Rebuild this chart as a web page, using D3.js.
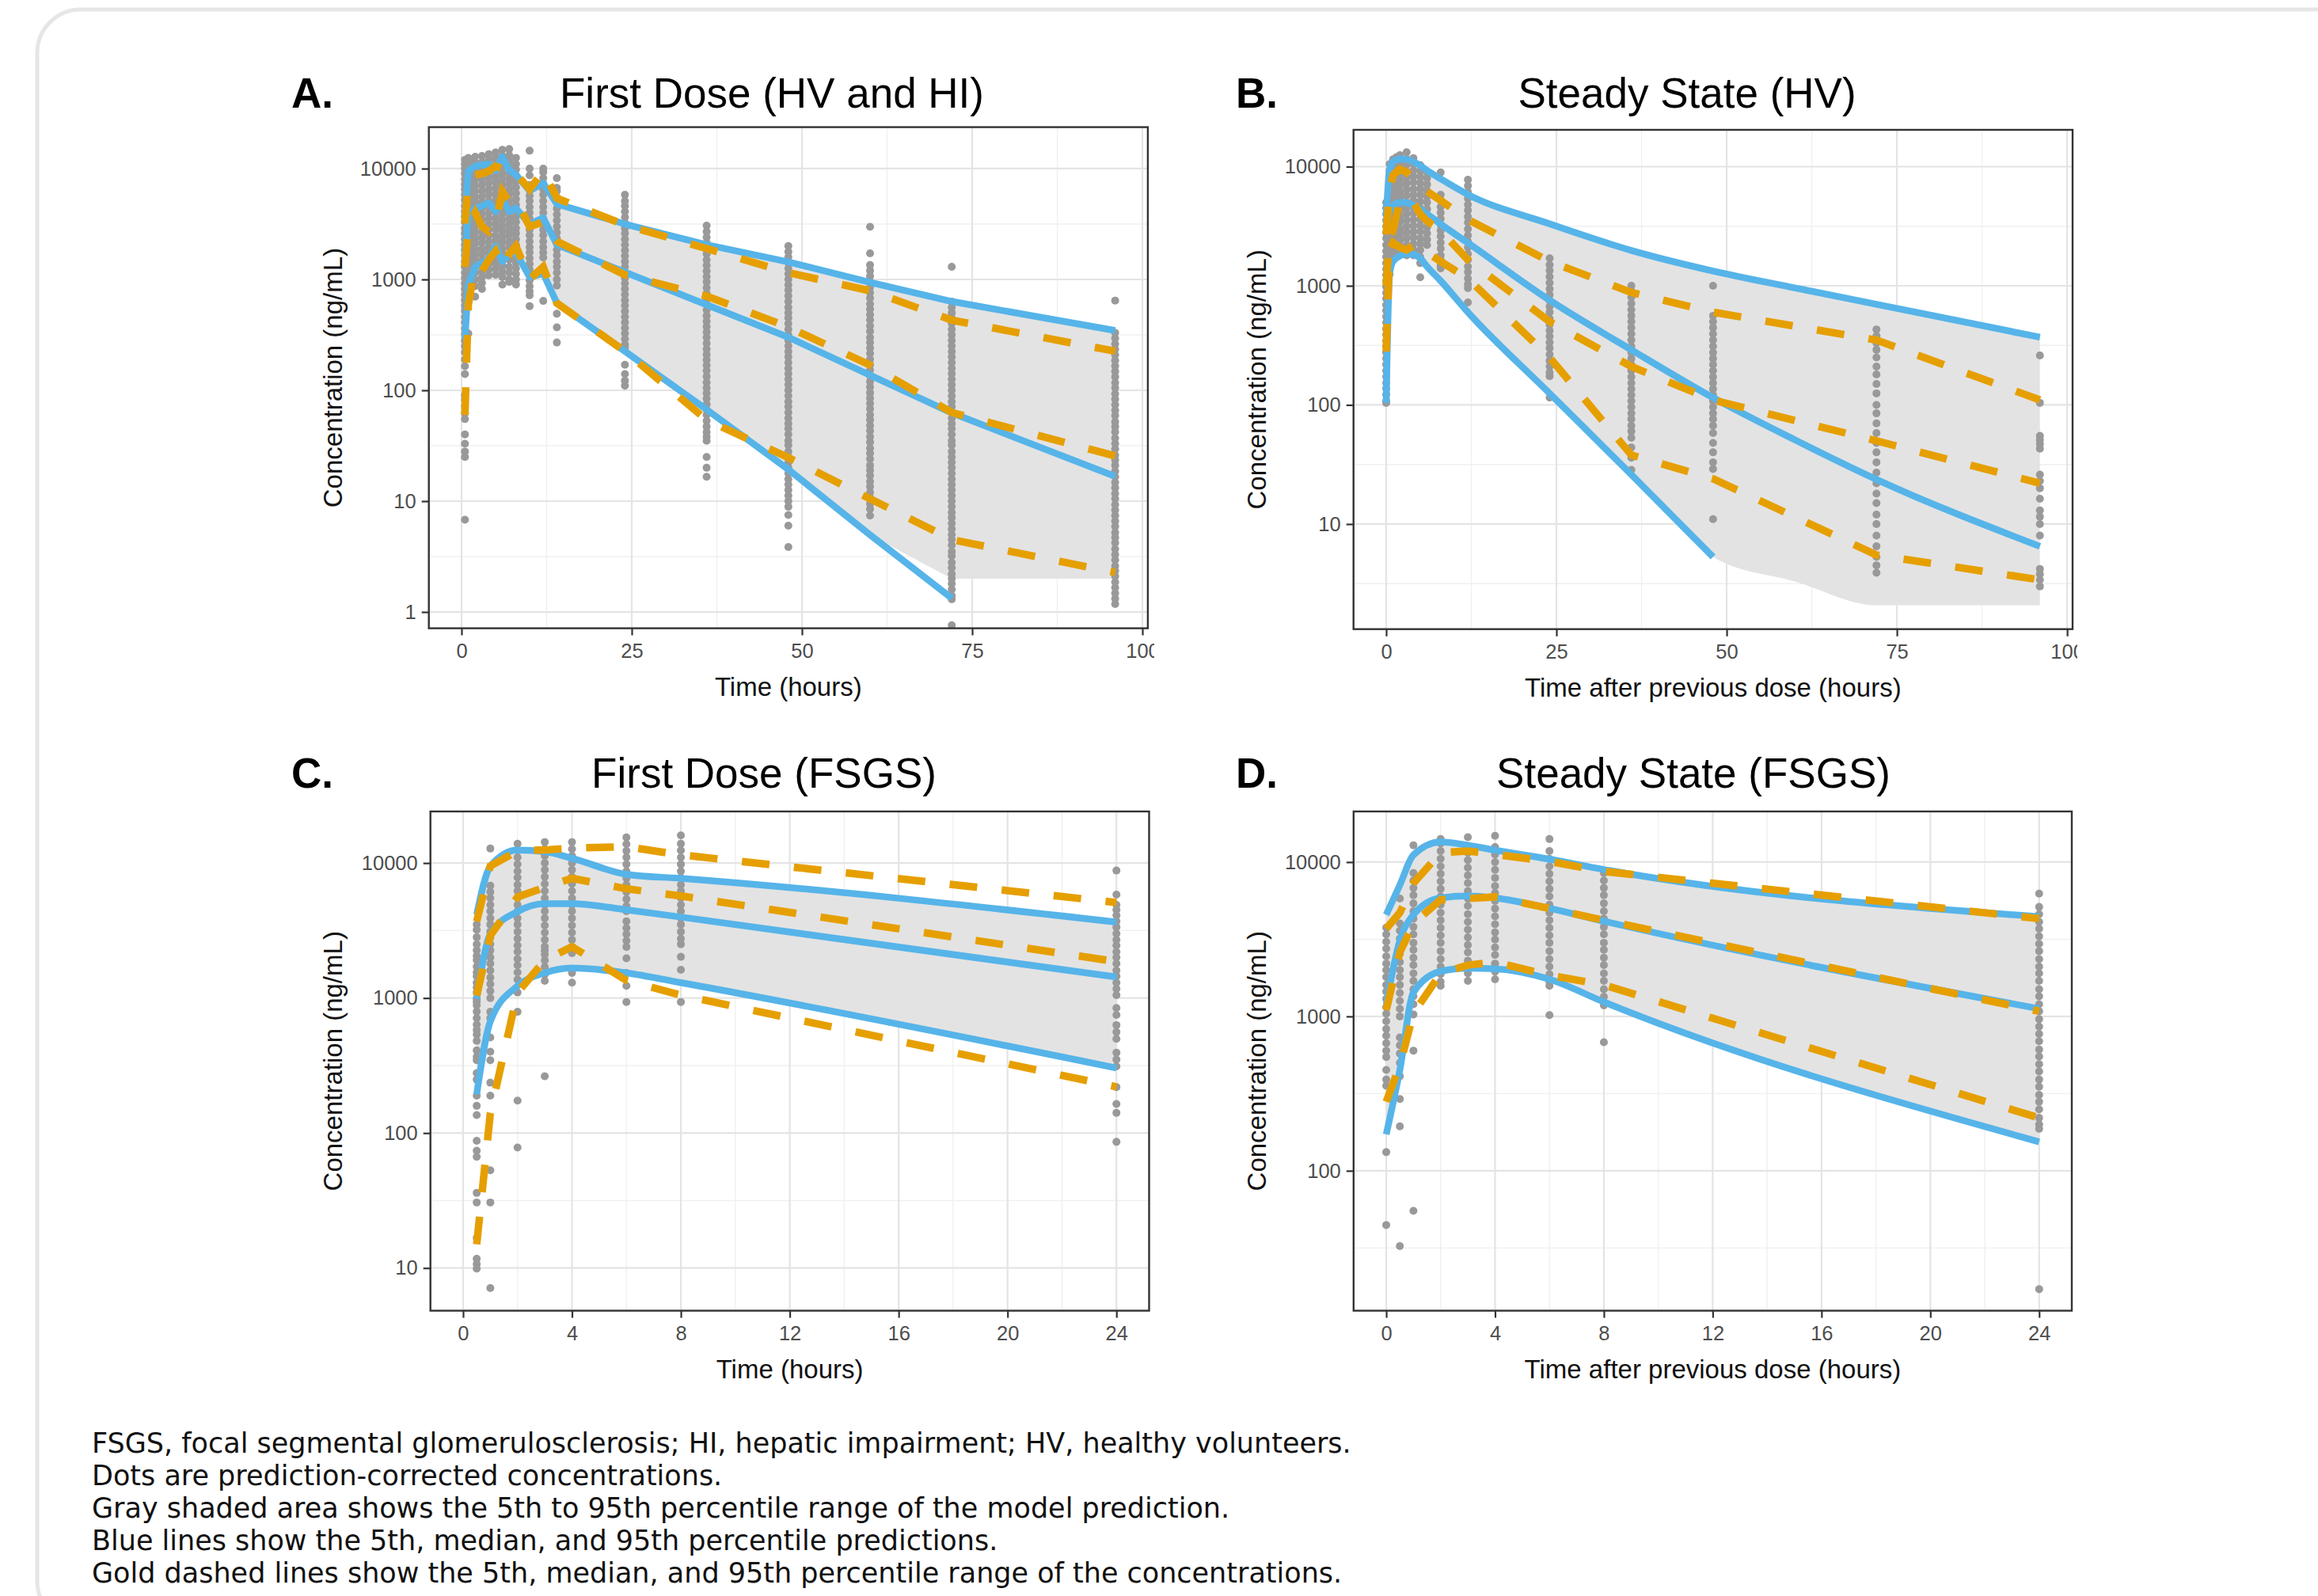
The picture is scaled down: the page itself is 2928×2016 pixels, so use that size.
<!DOCTYPE html>
<html><head><meta charset="utf-8">
<script src="https://cdn.jsdelivr.net/npm/d3@7"></script>
<style>body{margin:0;background:#fff}svg{display:block}</style>
</head><body>
<svg id="c" width="2928" height="2016"></svg>
<script>
// ---------------- DATA ----------------
// Panel A: First Dose (HV and HI)
const A_time   = [0.5,1,2,3,4,5,6,7,8,10,12,14,24,36,48,60,72,96];
const A_predHi = [3500,9500,10500,10800,11000,9600,12800,9700,8800,6300,7400,4800,3160,2060,1440,940,633,346];
const A_predMed= [1600,3900,4400,4600,4900,4100,5200,4100,4400,3150,3600,2060,1163,590,301,137,62.5,16.7];
const A_predLo = [290,900,1300,1400,1550,2000,1450,1700,1750,1050,1130,612,225,67,19.3,4.96,1.33,null];
const A_obsHi  = [3200,7800,8800,9000,9500,10500,10000,10300,9000,6500,9500,5400,3100,1900,1150,790,430,225];
const A_obsMed = [1300,3000,4000,3000,2700,3200,6200,5000,5200,3000,3300,2210,1100,708,372,169,63,25.6];
const A_obsLo  = [60,600,1300,1200,1500,1800,1300,1700,2000,1000,1300,612,225,54,24.7,10.5,4.5,2.27];
const A_bandLo = [290,900,1300,1400,1550,2000,1450,1700,1750,1050,1130,612,225,67,19.3,4.96,2,2];
const A_bandHi = [3500,9500,10500,10800,11000,9600,12800,9700,8800,6300,7400,4800,3160,2060,1440,940,633,346];
const A_dotTimes = [0.5,1,1.5,2,3,4,5,6,7,8,10,12,14,24,36,48,60,72,96];
const A_dots = [
 [12000,11000,10000,9000,8000,7200,6500,5800,5200,4600,4100,3700,3300,2900,2600,2300,2050,1850,1650,1450,1300,1150,1030,920,820,730,650,580,520,460,410,360,320,280,250,220,190,165,140,90,82,72,62,55,40,33,28,25,6.8],
 [12500,11000,9800,8700,7700,6800,6000,5300,4700,4200,3700,3300,2900,2600,2300,2050,1800,1600,1420,1260,1120,1000,890,620,325],
 [11800,10500,9300,8200,7300,6500,5800,5100,4500,4000,3550,3150,2800,2500,2200,1950,1750,1550,1380,1230,1100,890,700],
 [12800,11300,10000,8900,7900,7000,6200,5500,4900,4300,3800,3400,3000,2650,2350,2100,1850,1650,1470,1300,1150,1000,870,700],
 [13000,11500,10200,9000,8000,7100,6300,5600,5000,4400,3900,3450,3050,2700,2400,2150,1900,1700,1500,1330,1180,1050,930,820],
 [13500,12000,10600,9400,8300,7400,6500,5800,5100,4500,4000,3550,3150,2800,2500,2200,1950,1750,1550,1370,1220,1090],
 [14000,12400,11000,9700,8600,7600,6700,5900,5200,4600,4100,3600,3200,2850,2500,2250,2000,1780,1580,1400,1250,1100],
 [14800,13000,11500,10200,9000,8000,7100,6300,5600,5000,4400,3900,3450,3050,2700,2400,2150,1900,1700,1500,1330,1180,1050,900],
 [15000,13200,11700,10400,9200,8200,7300,6500,5800,5100,4500,4000,3550,3150,2800,2500,2200,1950,1700,1500,1300,1150,1000,950],
 [12500,11000,9800,8700,7700,6800,6000,5300,4700,4200,3700,3300,2900,2600,2300,2050,1800,1600,1420,1260,1120,1000,900],
 [14500,10000,8700,7100,6400,5700,5100,4500,4000,3550,3150,2800,2500,2200,1950,1750,1550,1380,1230,1100,980,870,780,720,575],
 [10000,9300,8200,7300,6500,5800,5100,4500,4000,3550,3150,2800,2500,2200,1950,1750,1580,640],
 [8200,6700,6250,5500,4900,4350,3850,3400,3000,2650,2350,2100,1850,1650,1450,1300,1150,1000,880,490,370,270],
 [5800,5100,4600,4100,3650,3250,2900,2600,2300,2050,1830,1630,1450,1300,1150,1030,920,820,730,650,580,515,460,410,365,325,290,258,243,170,140,122,110],
 [3060,2700,2400,2150,1900,1700,1500,1340,1190,1060,950,840,750,670,600,530,470,420,375,335,300,265,235,210,188,168,150,133,118,105,94,84,75,67,60,53,47,42,38,35,25,20,16.6],
 [2000,1780,1590,1420,1260,1120,1000,890,800,710,630,560,500,450,400,355,316,282,251,224,200,178,158,141,126,112,100,89,79,71,63,56,50,45,40,35,32,28,25,22.4,20,17.8,15.8,14.1,12.6,11.2,10,8.9,7.5,6,3.85],
 [2980,1720,1350,1200,1070,950,850,760,680,600,540,480,430,380,340,300,270,240,215,190,170,152,135,120,107,95,85,76,68,60,54,48,43,38,34,30,27,24,21,19,17,15,13.5,12,10.7,9.5,8.5,7.4],
 [1300,630,560,500,450,400,355,316,282,251,224,200,178,158,141,126,112,100,89,79,71,63,56,50,45,40,35,32,28,25,22.4,20,17.8,15.8,14.1,12.6,11.2,10,8.9,7.9,7.1,6.3,5.6,5,4.5,4,3.5,3.2,2.8,2.5,2.2,2,1.8,1.6,1.4,1.3,0.76],
 [645,330,295,262,234,209,186,166,148,132,117,105,93,83,74,66,59,52,47,42,37,33,29.5,26,23.5,21,18.6,16.6,14.8,13.2,11.7,10.5,9.3,8.3,7.4,6.6,5.9,5.2,4.7,4.2,3.7,3.3,2.95,2.6,2.35,2.1,1.86,1.66,1.48,1.32,1.18]
];

// Panel B: Steady State (HV)
const B_time   = [0,0.5,1,2,3,4,5,6,8,12,24,36,48,60,72,96];
const B_predHi = [3800,9500,11000,11600,11500,11000,10200,9300,7900,5840,3310,1980,1330,960,700,370];
const B_predMed= [3400,4300,4700,5000,5000,4700,4400,4000,3300,2290,757,290,115,51,23.7,6.5];
const B_predLo = [104,1250,1600,1780,1850,1830,1700,1450,1100,600,125,26,5.3,null,null,null];
const B_obsHi  = [2700,6500,8500,9500,9000,8000,7000,6200,5200,3600,1600,880,600,null,350,110];
const B_obsMed = [1000,2600,2900,5200,4800,5000,4000,3500,2900,1650,500,210,110,null,50,22];
const B_obsLo  = [280,2000,2300,2100,2000,2200,2000,1900,1600,1150,250,38,24,null,5.5,3.4];
const B_bandLo = [104,1250,1600,1780,1850,1830,1700,1450,1100,600,125,26,5.3,3.3,2.08,2.08];
const B_bandHi = [3800,9500,11000,11600,11500,11000,10200,9300,7900,5840,3310,1980,1330,960,700,370];
const B_dotTimes = [0,0.5,1,1.5,2,3,4,5,6,8,12,24,36,48,72,96];
const B_dots = [
 [5000,4500,4000,3550,3150,2800,2500,2200,1950,1750,1550,1380,1230,1100,980,870,780,690,620,550,490,435,390,345,310,275,245,218,194,172,153,137,122,108,104],
 [10500,9300,8300,7400,6600,5900,5200,4600,4100,3650,3250,2900,2600,2300,2050,1800,1600,1400,1250],
 [11500,10200,9100,8100,7200,6400,5700,5100,4500,4000,3600,3200,2850,2550,2250,2000,1800],
 [12000,10700,9500,8400,7500,6700,5900,5300,4700,4200,3700,3300,2950,2600,2350,2100,1900],
 [12500,11000,9800,8700,7700,6900,6100,5400,4800,4300,3800,3400,3000,2700,2400,2150,1950],
 [13200,11600,10300,9100,8100,7200,6400,5700,5000,4500,4000,3550,3150,2800,2500,2200,2000,1800],
 [11800,10500,9300,8300,7400,6500,5800,5200,4600,4100,3600,3200,2850,2550,2250,2000,1800],
 [10300,9200,8200,7300,6500,5800,5100,4500,4000,3600,3200,2850,2500,2250,2000,1750,1550,1180],
 [9000,8000,7100,6300,5600,5000,4400,3900,3500,3100,2750,2450,2200],
 [8950,5800,5200,4600,4100,3650,3250,2900,2600,2300,2050,1800,1650,1480,1400],
 [7760,6900,6100,5400,4800,4300,3800,3400,3000,2650,2350,2100,1850,1650,1450,1300,1150,1030,955,725],
 [1700,1500,1340,1190,1060,940,840,750,670,600,530,470,420,375,335,300,265,235,210,187,174,115],
 [1000,900,800,710,630,560,500,445,395,350,310,275,245,218,194,172,153,136,121,108,96,85,76,67,60,53,44,36,28.5],
 [1000,560,500,445,395,350,310,275,245,218,194,172,153,136,121,108,96,85,76,67,58,48,40,33,29,11],
 [430,380,330,290,250,210,180,150,125,100,85,70,58,48,40,33,27,22,18,15,12,10,8,6.5,5.3,4.5,3.9],
 [260,104,55,51,47,43,26,23,20,16.3,13,11.5,10,8,4.2,3.8,3.4,3.0]
];

// Panel C: First Dose (FSGS)
const C_time   = [0.5,1,2,3,4,6,8,24];
const C_predHi = [4140,9470,12470,12130,10860,8240,7700,3650];
const C_predMed= [986,2970,4370,5000,5000,4500,3980,1430];
const C_predLo = [194,671,1230,1535,1667,1535,1300,303];
const C_obsHi  = [3700,9500,12300,12500,12900,13200,11500,5100];
const C_obsMed = [1040,2900,5600,6600,7700,6450,5700,1860];
const C_obsLo  = [15,140,1100,1900,2400,1350,1050,220];
const C_dotTimes = [0.5,1,2,3,4,6,8,24];
const C_dots = [
 [3510,3200,2820,2500,2260,2050,1910,1710,1550,1450,1300,1200,1100,990,940,885,795,710,635,580,537,482,409,366,346,278,249,189,159,136,87.5,74,66.6,36,30.6,16.7,11.7,10.7,9.9],
 [12800,6800,6100,5500,4900,4400,3900,3500,3100,2800,2500,2250,2000,1800,1600,1420,1270,1130,1000,790,710,510,400,346,236,189,53,30.6,7.1],
 [13900,12400,11000,9800,8700,7800,6900,6200,5500,4900,4400,3900,3500,3100,2750,2450,2200,1950,1750,1550,1370,1100,790,174,78],
 [14300,12700,11300,10000,8900,7900,7000,6200,5500,4900,4400,3900,3450,3050,2700,2400,2250,2100,1900,1700,1500,1340,263],
 [14300,12700,11300,10000,8900,7900,7000,6200,5500,4900,4400,3900,3450,3050,2700,2400,2150,1535,1300],
 [15500,13800,12300,11000,9800,8700,7700,6900,6100,5400,4800,4400,3700,3300,2970,2660,2390,1970,1535,1230,935],
 [16000,13900,12400,11000,9800,8700,7800,6900,6200,5500,4900,4400,3900,3500,3100,2750,2500,2020,1620,935],
 [8800,5840,4900,4500,4100,3700,3350,3000,2700,2450,2200,2000,1800,1600,1450,1300,1170,1050,844,750,630,560,498,394,350,312,219,164,141,86]
];

// Panel D: Steady State (FSGS)
const D_time   = [0,0.5,1,2,3,4,6,8,24];
const D_predHi = [4560,7100,11120,13490,12850,11940,10440,8950,4430];
const D_predMed= [1200,3100,4560,5860,6030,5860,5010,4140,1122];
const D_predLo = [172,450,1430,1960,2055,2035,1740,1240,154];
const D_obsHi  = [3700,4700,7300,11500,11800,11200,10100,8700,4300];
const D_obsMed = [1100,2600,4000,5700,5800,5950,5000,4200,1080];
const D_obsLo  = [280,480,1050,1900,2150,2250,1850,1600,220];
const D_dotTimes = [0,0.5,1,2,3,4,6,8,24];
const D_dots = [
 [3760,3400,3050,2750,2450,2200,2000,1800,1600,1450,1300,1150,1040,930,830,750,670,600,546,450,390,355,132,44.5],
 [5800,4000,3600,3200,2850,2550,2250,2000,1800,1600,1420,1260,1120,1000,730,650,575,500,410,292,194,32.5],
 [12850,8500,7600,6800,6100,5400,4800,4300,3800,3400,3000,2700,2400,2150,1900,1700,1500,1350,1200,1030,600,55],
 [14100,13200,11800,10500,9400,8400,7500,6700,6000,5300,4700,4200,3750,3350,3000,2650,2350,2100,1880,1680,1580],
 [14500,11500,10300,9200,8200,7300,6500,5800,5200,4600,4100,3650,3250,2900,2600,2300,2100,1900,1700],
 [14800,12500,11200,10000,8900,7900,7000,6300,5600,5000,4450,3950,3500,3150,2800,2500,2200,1950,1740],
 [14100,11800,10500,9400,8400,7500,6700,6000,5300,4700,4200,3750,3350,3000,2650,2350,2100,1880,1680,1580,1020],
 [8500,7600,6800,6100,5400,4800,4300,3800,3400,3000,2700,2400,2150,1900,1700,1500,1340,1180,680],
 [6250,5120,4600,4100,3700,3300,2950,2650,2350,2100,1900,1700,1500,1350,1200,1080,960,860,770,690,610,550,490,440,390,350,310,280,250,220,200,187,17.1]
];

// Tick labels
const xTicksLong  = [0,25,50,75,100];
const xMinorLong  = [12.5,37.5,62.5,87.5];
const xTicksShort = [0,4,8,12,16,20,24];
const xMinorShort = [2,6,10,14,18,22];
const yTicksA = [1,10,100,1000,10000];
const yTicksB = [10,100,1000,10000];
const yTicksC = [10,100,1000,10000];
const yTicksD = [100,1000,10000];
const yMinorAll = [0.3162,3.162,31.62,316.2,3162,31623];

const titles  = ["First Dose (HV and HI)","Steady State (HV)","First Dose (FSGS)","Steady State (FSGS)"];
const letters = ["A.","B.","C.","D."];
const yTitle  = "Concentration (ng/mL)";
const xTitles = ["Time (hours)","Time after previous dose (hours)","Time (hours)","Time after previous dose (hours)"];
const captionLines = [
 "FSGS, focal segmental glomerulosclerosis; HI, hepatic impairment; HV, healthy volunteers.",
 "Dots are prediction-corrected concentrations.",
 "Gray shaded area shows the 5th to 95th percentile range of the model prediction.",
 "Blue lines show the 5th, median, and 95th percentile predictions.",
 "Gold dashed lines show the 5th, median, and 95th percentile range of the concentrations."
];

// ---------------- LAYOUT ----------------
const BLUE = "#56B4E9", GOLD = "#E69F00", DOT = "#999999", BAND = "#e3e3e3";
const FONT = "'Liberation Sans', Arial, Helvetica, sans-serif";

const panels = [
 {box:{l:541.7,r:1449.9,t:160.6,b:793.6}, xDom:[-4.8,100.8], yDom:[0.713,23660],
  xT:xTicksLong, xM:xMinorLong, yT:yTicksA, curve:d3.curveLinear, clip:1458,
  letterX:368, titleX:975, titleY:136, yTitleX:432,
  time:A_time, hi:A_predHi, med:A_predMed, lo:A_predLo, oHi:A_obsHi, oMed:A_obsMed, oLo:A_obsLo,
  bandT:A_time, bLo:A_bandLo, bHi:A_bandHi, dT:A_dotTimes, dots:A_dots},
 {box:{l:1709.7,r:2618,t:164,b:794.7}, xDom:[-4.8,100.8], yDom:[1.312,20370],
  xT:xTicksLong, xM:xMinorLong, yT:yTicksB, curve:d3.curveMonotoneX, clip:2624,
  letterX:1561, titleX:2131, titleY:136, yTitleX:1599,
  time:B_time, hi:B_predHi, med:B_predMed, lo:B_predLo, oHi:B_obsHi, oMed:B_obsMed, oLo:B_obsLo,
  bandT:B_time, bLo:B_bandLo, bHi:B_bandHi, dT:B_dotTimes, dots:B_dots},
 {box:{l:543.7,r:1451.5,t:1025,b:1655.6}, xDom:[-1.2,25.2], yDom:[4.83,24100],
  xT:xTicksShort, xM:xMinorShort, yT:yTicksC, curve:d3.curveMonotoneX, clip:null,
  letterX:368, titleX:965, titleY:995, yTitleX:432,
  time:C_time, hi:C_predHi, med:C_predMed, lo:C_predLo, oHi:C_obsHi, oMed:C_obsMed, oLo:C_obsLo,
  bandT:C_time, bLo:C_predLo, bHi:C_predHi, dT:C_dotTimes, dots:C_dots},
 {box:{l:1709.8,r:2617,t:1025,b:1655.6}, xDom:[-1.2,25.2], yDom:[12.4,21280],
  xT:xTicksShort, xM:xMinorShort, yT:yTicksD, curve:d3.curveMonotoneX, clip:null,
  letterX:1561, titleX:2139, titleY:995, yTitleX:1599,
  time:D_time, hi:D_predHi, med:D_predMed, lo:D_predLo, oHi:D_obsHi, oMed:D_obsMed, oLo:D_obsLo,
  bandT:D_time, bLo:D_predLo, bHi:D_predHi, dT:D_dotTimes, dots:D_dots}
];

const svg = d3.select("#c");
const defs = svg.append("defs");

// card background
svg.append("rect").attr("x",47).attr("y",12).attr("width",3000).attr("height",2040)
  .attr("rx",55).attr("fill","#fff").attr("stroke","#e6e6e6").attr("stroke-width",5);

panels.forEach((p,i) => {
  const {l,r,t,b} = p.box;
  const x = d3.scaleLinear().domain(p.xDom).range([l,r]);
  const y = d3.scaleLog().domain(p.yDom).range([b,t]);
  const g = svg.append("g");

  g.append("rect").attr("x",l).attr("y",t).attr("width",r-l).attr("height",b-t).attr("fill","#fff");

  // grid
  const yMin = yMinorAll.filter(v => v>p.yDom[0] && v<p.yDom[1]);
  g.selectAll(null).data(yMin).join("line")
    .attr("x1",l).attr("x2",r).attr("y1",d=>y(d)).attr("y2",d=>y(d))
    .attr("stroke","#f0f0f0").attr("stroke-width",1.4);
  g.selectAll(null).data(p.xM).join("line")
    .attr("y1",t).attr("y2",b).attr("x1",d=>x(d)).attr("x2",d=>x(d))
    .attr("stroke","#f0f0f0").attr("stroke-width",1.4);
  g.selectAll(null).data(p.yT).join("line")
    .attr("x1",l).attr("x2",r).attr("y1",d=>y(d)).attr("y2",d=>y(d))
    .attr("stroke","#e4e4e4").attr("stroke-width",2.2);
  g.selectAll(null).data(p.xT.filter(v=>x(v)<=r)).join("line")
    .attr("y1",t).attr("y2",b).attr("x1",d=>x(d)).attr("x2",d=>x(d))
    .attr("stroke","#e4e4e4").attr("stroke-width",2.2);

  const cid = "clip"+i;
  defs.append("clipPath").attr("id",cid).append("rect")
    .attr("x",l).attr("y",t).attr("width",r-l).attr("height",b-t);
  const pg = g.append("g").attr("clip-path",`url(#${cid})`);

  // band
  const band = p.bandT.map((tt,j)=>({t:tt, lo:p.bLo[j], hi:p.bHi[j]})).filter(d=>d.lo!=null&&d.hi!=null);
  pg.append("path").datum(band)
    .attr("d", d3.area().curve(p.curve).x(d=>x(d.t)).y0(d=>y(d.lo)).y1(d=>y(d.hi)))
    .attr("fill",BAND);

  // dots
  const pts = [];
  p.dT.forEach((tt,j)=>p.dots[j].forEach(v=>pts.push({t:tt,v})));
  pg.selectAll(null).data(pts).join("circle")
    .attr("cx",d=>x(d.t)).attr("cy",d=>y(d.v)).attr("r",5).attr("fill",DOT);

  const mk = arr => p.time.map((tt,j)=>({t:tt,v:arr[j]})).filter(d=>d.v!=null);
  [p.lo,p.med,p.hi].forEach(arr=>{
    pg.append("path").datum(mk(arr))
      .attr("d", d3.line().curve(p.curve).x(d=>x(d.t)).y(d=>y(d.v)))
      .attr("fill","none").attr("stroke",BLUE).attr("stroke-width",8.5)
      .attr("stroke-linejoin","round");
  });
  [p.oLo,p.oMed,p.oHi].forEach(arr=>{
    pg.append("path").datum(mk(arr))
      .attr("d", d3.line().x(d=>x(d.t)).y(d=>y(d.v)))
      .attr("fill","none").attr("stroke",GOLD).attr("stroke-width",9.5)
      .attr("stroke-dasharray","35,31").attr("stroke-linecap","butt");
  });

  // border
  g.append("rect").attr("x",l).attr("y",t).attr("width",r-l).attr("height",b-t)
    .attr("fill","none").attr("stroke","#333").attr("stroke-width",2.4);

  // axes
  const gx = g.append("g").attr("transform",`translate(0,${b})`)
    .call(d3.axisBottom(x).tickValues(p.xT).tickSize(9).tickPadding(10).tickFormat(d3.format("d")));
  if (p.clip) {
    const xc = "xclip"+i;
    defs.append("clipPath").attr("id",xc).append("rect")
      .attr("x",0).attr("y",-5).attr("width",p.clip).attr("height",80);
    gx.attr("clip-path",`url(#${xc})`);
  }
  const gy = g.append("g").attr("transform",`translate(${l},0)`)
    .call(d3.axisLeft(y).tickValues(p.yT).tickSize(9).tickPadding(7).tickFormat(d3.format("d")));
  [gx,gy].forEach(a=>{
    a.select(".domain").remove();
    a.attr("font-family",FONT).attr("font-size",25.5);
    a.selectAll(".tick line").attr("stroke","#333").attr("stroke-width",2.2);
    a.selectAll(".tick text").attr("fill","#4d4d4d");
  });

  // axis titles
  g.append("text").attr("x",(l+r)/2).attr("y",b+85).attr("text-anchor","middle")
    .attr("font-family",FONT).attr("font-size",33).attr("fill","#111").text(xTitles[i]);
  g.append("text").attr("transform",`translate(${p.yTitleX},${(t+b)/2}) rotate(-90)`)
    .attr("text-anchor","middle").attr("font-family",FONT).attr("font-size",33)
    .attr("fill","#111").text(yTitle);

  // titles
  g.append("text").attr("x",p.letterX).attr("y",p.titleY).attr("font-family",FONT)
    .attr("font-size",53).attr("font-weight","bold").attr("fill","#000").text(letters[i]);
  g.append("text").attr("x",p.titleX).attr("y",p.titleY).attr("text-anchor","middle")
    .attr("font-family",FONT).attr("font-size",53).attr("fill","#000").text(titles[i]);
});

// caption
const cap = svg.append("g").attr("font-family","'DejaVu Sans', Verdana, sans-serif").attr("fill","#111");
const probe = cap.append("text").attr("font-size",30).text(captionLines[0]);
const w30 = probe.node().getComputedTextLength();
probe.remove();
const capSize = 30 * 1591 / w30;
captionLines.forEach((s,k)=>{
  cap.append("text").attr("x",116).attr("y",1835 + k*41).attr("font-size",capSize).text(s);
});
</script>
</body></html>
